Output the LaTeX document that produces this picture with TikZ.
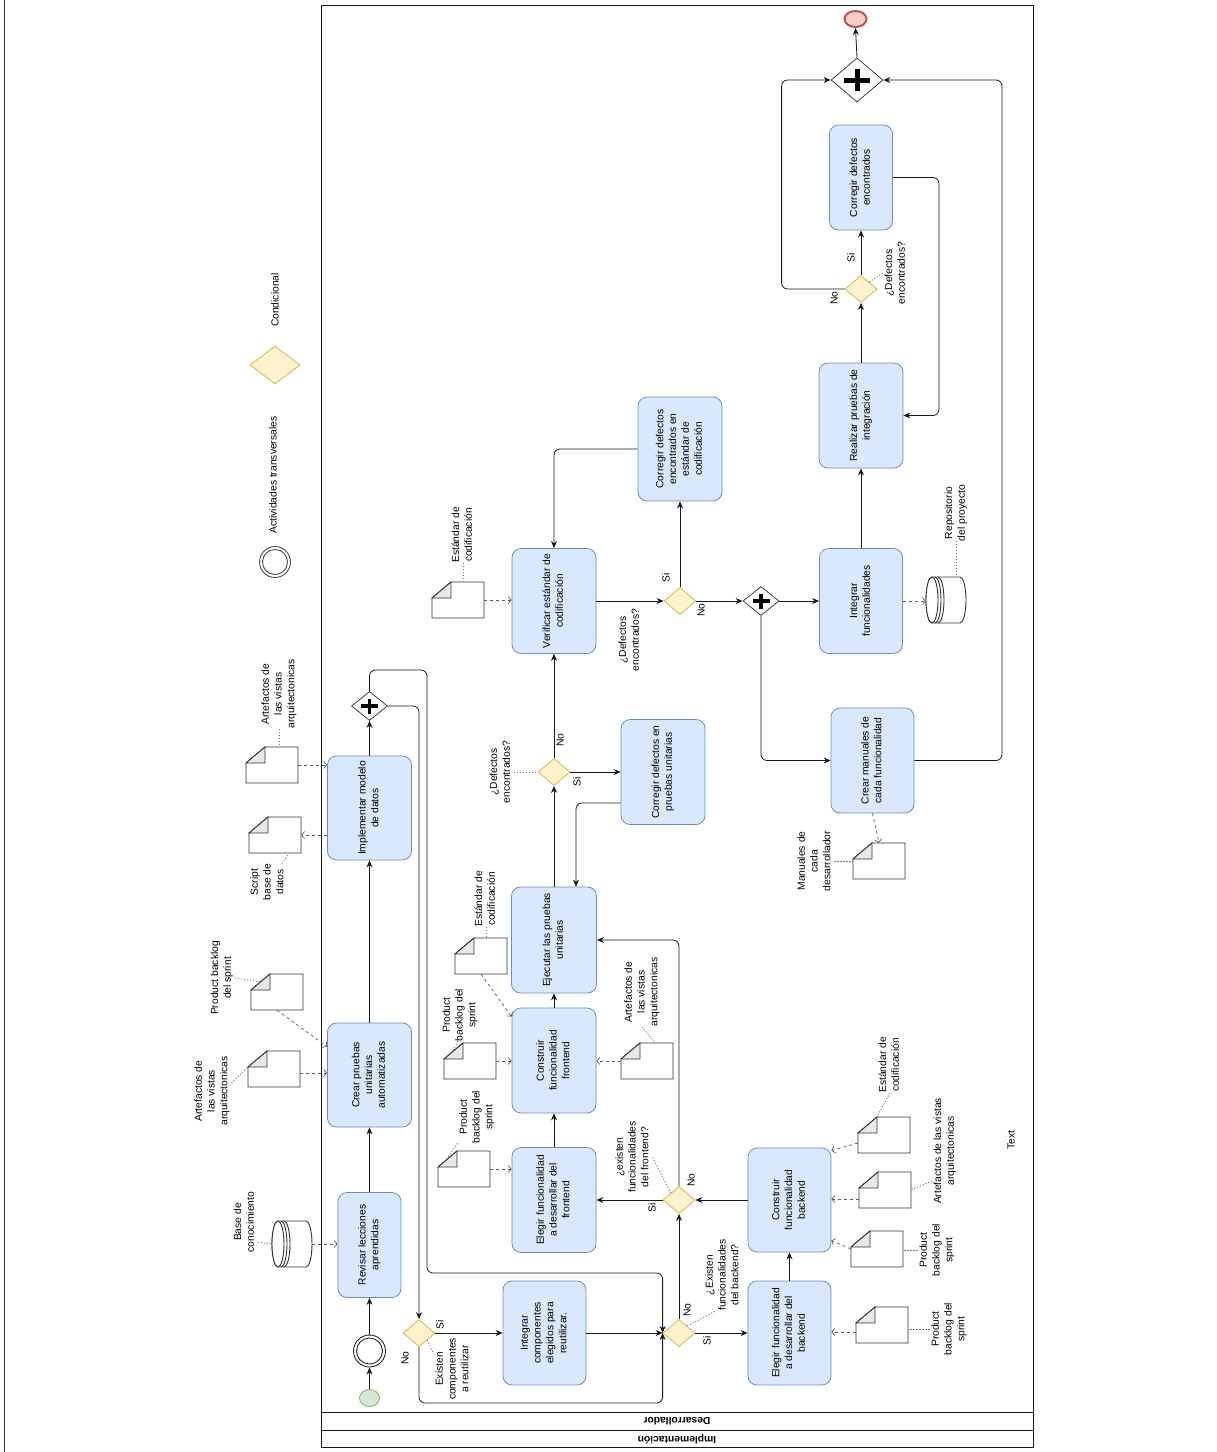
\documentclass[tikz,border=0pt]{standalone}
\usepackage{fontspec}
\setmainfont{Liberation Sans}
\usepackage{graphicx}
\usetikzlibrary{shapes.geometric,arrows.meta,calc}
\definecolor{taskfill}{HTML}{DAE8FC}
\definecolor{taskline}{HTML}{6C8EBF}
\definecolor{condfill}{HTML}{FFF2CC}
\definecolor{condline}{HTML}{D6B656}
\definecolor{startfill}{HTML}{D5E8D4}
\definecolor{startline}{HTML}{82B366}
\definecolor{endfill}{HTML}{F8CECC}
\definecolor{endline}{HTML}{B85450}
\newcommand{\rt}[1]{\rotatebox{90}{\begin{tabular}{@{}c@{}}#1\end{tabular}}}
\newcommand{\docobj}[3]{%
  \node[inner sep=0, minimum width=52pt, minimum height=36pt] (#1) at ({#2+26},{#3+18}) {};
  \draw[docline] (#2,{#3+16}) -- ({#2+19},#3) -- ({#2+52},#3) -- ({#2+52},{#3+36}) -- (#2,{#3+36}) -- cycle;
  \draw[docline, fill=black!9] (#2,{#3+16}) -- ({#2+19},{#3+16}) -- ({#2+19},#3) -- cycle;
}
\newcommand{\cylobj}[4]{% name, left, top, cy
  \node[inner sep=0, minimum width=40pt, minimum height=46pt] (#1) at ({#2+20},#4) {};
  \draw[docline] ({#2+6},#3) -- ({#2+34},#3) arc[start angle=90,end angle=-90,x radius=6pt,y radius=23pt]
     -- ({#2+6},{#3+46}) arc[start angle=270,end angle=90,x radius=6pt,y radius=23pt] -- cycle;
  \draw[docline] ({#2+6},#4) ellipse[x radius=6pt,y radius=23pt];
  \draw[docline,fill=none] ({#2+9},#3) arc[start angle=90,end angle=-90,x radius=6pt,y radius=23pt];
  \draw[docline,fill=none] ({#2+12},#3) arc[start angle=90,end angle=-90,x radius=6pt,y radius=23pt];
}
\tikzset{
  task/.style={draw=taskline, fill=taskfill, rounded corners=9pt, inner sep=0, line width=0.8pt},
  cond/.style={diamond, draw=condline, fill=condfill, inner sep=0, minimum width=32pt, minimum height=27pt, line width=0.8pt},
  pargw/.style={diamond, draw=black!75, fill=white, inner sep=0, line width=0.8pt},
  flow/.style={draw=black!90, line width=0.8pt, rounded corners=6pt, -{Stealth[length=7pt,width=6pt]}},
  assoc/.style={draw=black!65, line width=0.7pt, dash pattern=on 3pt off 3pt, -{Straight Barb[length=3pt,width=7pt]}},
  annot/.style={draw=black!55, line width=0.8pt, dash pattern=on 1.2pt off 1.8pt},
  docline/.style={draw=black!80, line width=0.9pt, fill=white},
  lbl/.style={inner sep=0},
}
\begin{document}
\begin{tikzpicture}[x=1pt,y=-1pt, font=\fontsize{10.3}{12.8}\selectfont]
\useasboundingbox (0,0) rectangle (1217,1452);
\fill[white] (0,0) rectangle (1217,1452);
\draw[black!80, line width=0.8pt] (4,0) -- (4,1452);

% pool
\draw[black!90, line width=0.9pt] (321,5) rectangle (1033,1447);
\draw[black!90, line width=0.9pt] (321,1412) -- (1033,1412);
\draw[black!90, line width=0.9pt] (321,1430) -- (1033,1430);
\node[lbl, rotate=180, font=\fontsize{10.3}{12}\selectfont\bfseries] (lane1) at (677,1421) {Desarrollador};
\node[lbl, rotate=180, font=\fontsize{10.3}{12}\selectfont\bfseries] (lane2) at (677,1439) {Implementación};

% legend
\node[circle, draw=black!70, line width=0.9pt, minimum size=31pt, inner sep=0] (legev) at (275,562) {};
\draw[black!70, line width=0.9pt] (legev.center) circle[radius=12.5pt];
\node[lbl] (legevt) at (274,475) {\rt{Actividades transversales}};
\node[cond, minimum width=50pt, minimum height=38pt] (legcond) at (275,365) {};
\node[lbl] (legcondt) at (276,300) {\rt{Condicional}};
\node[lbl] (txt) at (1012,1140) {\rt{Text}};

% events
\node[ellipse, draw=startline, fill=startfill, line width=0.8pt, minimum width=20pt, minimum height=17pt, inner sep=0] (start) at (369.5,1398) {};
\node[circle, draw=black!85, line width=0.9pt, minimum size=32pt, inner sep=0] (inter) at (369.5,1351) {};
\draw[black!85, line width=0.9pt] (inter.center) circle[radius=13pt];
\node[ellipse, draw=endline, fill=endfill, line width=2pt, minimum width=22pt, minimum height=16pt, inner sep=0] (end) at (855.5,19) {};

% tasks
\node[task, minimum width=63pt, minimum height=105pt] (t1) at (369.5,1245) {\rt{Revisar lecciones\\aprendidas}};
\node[task, minimum width=84pt, minimum height=104pt] (t2) at (369.5,1075) {\rt{Crear pruebas\\unitarias\\automatizadas}};
\node[task, minimum width=84pt, minimum height=104pt] (t3) at (369.5,808) {\rt{Implementar modelo\\de datos}};
\node[task, minimum width=83pt, minimum height=104pt] (t4) at (544.5,1333) {\rt{Integrar\\componentes\\elegidos para\\reutilizar.}};
\node[task, minimum width=84pt, minimum height=105pt] (t5) at (554,1200) {\rt{Elegir funcionalidad\\a desarrollar del\\frontend}};
\node[task, minimum width=84pt, minimum height=105pt] (t6) at (554,1060.5) {\rt{Construir\\funcionalidad\\frontend}};
\node[task, minimum width=85pt, minimum height=106pt] (t7) at (554,940) {\rt{Ejecutar las pruebas\\unitarias}};
\node[task, minimum width=84pt, minimum height=105pt] (t8) at (663,772) {\rt{Corregir defectos en\\pruebas unitarias}};
\node[task, minimum width=84pt, minimum height=105pt] (t9) at (554,601) {\rt{Verificar estándar de\\codificación}};
\node[task, minimum width=84pt, minimum height=104pt] (t10) at (680,449) {\rt{Corregir defectos\\encontrados en\\estándar de\\codificación}};
\node[task, minimum width=83pt, minimum height=105pt] (t11) at (861,601) {\rt{Integrar\\funcionalidades}};
\node[task, minimum width=83pt, minimum height=105pt] (t12) at (872.5,760.5) {\rt{Crear manuales de\\cada funcionalidad}};
\node[task, minimum width=84pt, minimum height=105pt] (t13) at (861,415.5) {\rt{Realizar pruebas de\\integración}};
\node[task, minimum width=63pt, minimum height=105pt] (t14) at (861,177.5) {\rt{Corregir defectos\\encontrados}};
\node[task, minimum width=83pt, minimum height=104pt] (t15) at (789.5,1333) {\rt{Elegir funcionalidad\\a desarrollar del\\backend}};
\node[task, minimum width=83pt, minimum height=104pt] (t16) at (789.5,1200) {\rt{Construir\\funcionalidad\\backend}};

% gateways
\node[cond] (g1) at (419,1333) {};
\node[cond] (g2) at (679,1333) {};
\node[cond] (g3) at (679,1200) {};
\node[cond] (g4) at (554,772) {};
\node[cond] (g5) at (680,601) {};
\node[cond] (g6) at (861,289) {};
\node[pargw, minimum width=36pt, minimum height=29pt] (p1) at (369.5,706) {};
\node[pargw, minimum width=36pt, minimum height=29pt] (p2) at (761,601) {};
\node[pargw, minimum width=52pt, minimum height=44pt] (p3) at (857,80) {};
\foreach \p in {p1,p2}{
  \draw[line width=3.5pt] ([xshift=-8.5pt]\p.center) -- ([xshift=8.5pt]\p.center);
  \draw[line width=3.5pt] ([yshift=-7.5pt]\p.center) -- ([yshift=7.5pt]\p.center);
}
\draw[line width=5pt] ([xshift=-13pt]p3.center) -- ([xshift=13pt]p3.center);
\draw[line width=5pt] ([yshift=-11pt]p3.center) -- ([yshift=11pt]p3.center);

% data objects
\docobj{d1}{251}{974}
\docobj{d2}{248}{1051}
\docobj{d4}{249}{817}
\docobj{d5}{246}{747}
\docobj{d6}{438}{1151}
\docobj{d7}{444}{1043}
\docobj{d8}{455}{938}
\docobj{d9}{621}{1043}
\docobj{d10}{432}{582}
\docobj{d12}{853}{843}
\docobj{d13}{858}{1117}
\docobj{d14}{859}{1172}
\docobj{d15}{851}{1231}
\docobj{d16}{856}{1307}
\cylobj{cyl1}{272}{1221}{1244}
\cylobj{cyl2}{926}{577}{600}

% data labels
\node[lbl] (ld1) at (222,978) {\rt{Product backlog\\del sprint}};
\node[lbl] (ld2) at (212,1091) {\rt{Artefactos de\\las vistas\\arquitectonicas}};
\node[lbl] (ld3) at (245,1222) {\rt{Base de\\conocimiento}};
\node[lbl] (ld4) at (268,882) {\rt{Script\\base de\\datos}};
\node[lbl] (ld5) at (279,694) {\rt{Artefactos de\\las vistas\\arquitectonicas}};
\node[lbl] (ld6) at (477,1117) {\rt{Product\\backlog del\\sprint}};
\node[lbl] (ld7) at (460,1015) {\rt{Product\\backlog del\\sprint}};
\node[lbl] (ld8) at (486,899) {\rt{Estándar de\\codificación}};
\node[lbl] (ld9) at (642,992) {\rt{Artefactos de\\las vistas\\arquitectonicas}};
\node[lbl] (ld10) at (463,535) {\rt{Estándar de\\codificación}};
\node[lbl] (ld11) at (956,513) {\rt{Repositorio\\del proyecto}};
\node[lbl] (ld12) at (815,861) {\rt{Manuales de\\cada\\desarrollador}};
\node[lbl] (ld13) at (890,1065) {\rt{Estándar de\\codificación}};
\node[lbl] (ld14) at (945,1151) {\rt{Artefactos de las vistas\\arquitectonicas}};
\node[lbl] (ld15) at (937,1250) {\rt{Product\\backlog del\\sprint}};
\node[lbl] (ld16) at (949,1329) {\rt{Product\\backlog del\\sprint}};

% gateway labels
\node[lbl] (lg1) at (453,1369) {\rt{Existen\\componentes\\a reutilizar}};
\node[lbl] (lg2) at (723,1275) {\rt{¿Existen\\funcionalidades\\del backend?}};
\node[lbl] (lg3) at (633,1157) {\rt{¿existen\\funcionalidades\\del frontend?}};
\node[lbl] (lg4) at (501,772) {\rt{¿Defectos\\encontrados?}};
\node[lbl] (lg5) at (630,640) {\rt{¿Defectos\\encontrados?}};
\node[lbl] (lg6) at (896,273) {\rt{¿Defectos\\encontrados?}};

% flow labels
\node[lbl] (s1) at (441,1325) {\rt{Si}};
\node[lbl] (n1) at (406,1358) {\rt{No}};
\node[lbl] (s2) at (708,1341) {\rt{Si}};
\node[lbl] (n2) at (688,1310) {\rt{No}};
\node[lbl] (s3) at (653,1208) {\rt{Si}};
\node[lbl] (n3) at (692,1180) {\rt{No}};
\node[lbl] (s4) at (578,782) {\rt{Si}};
\node[lbl] (n4) at (561,740) {\rt{No}};
\node[lbl] (s5) at (667,578) {\rt{Si}};
\node[lbl] (n5) at (702,610) {\rt{No}};
\node[lbl] (s6) at (852,258) {\rt{Si}};
\node[lbl] (n6) at (835,298) {\rt{No}};

% sequence flows
\draw[flow] (start.north) -- (inter.south);
\draw[flow] (inter.north) -- (t1.south);
\draw[flow] (t1.north) -- (t2.south);
\draw[flow] (t2.north) -- (t3.south);
\draw[flow] (t3.north) -- (p1.south);
\draw[flow] (p1.north) |- (427,670) -- (427,1273) -| (g2.west);
\draw[flow] (p1.east) -| (g1.north);
\draw[flow] (g1.east) -- (t4.west);
\draw[flow] (g1.south) -- (419,1403) -| (g2.west);
\draw[flow] (t4.east) -- (g2.west);
\draw[flow] (g2.east) -- (t15.west);
\draw[flow] (g2.north) -- (g3.south);
\draw[flow] (t15.north) -- (t16.south);
\draw[flow] (t16.west) -- (g3.east);
\draw[flow] (g3.west) -- (t5.east);
\draw[flow] (g3.north) |- (t7.east);
\draw[flow] (t5.north) -- (t6.south);
\draw[flow] (t6.north) -- (t7.south);
\draw[flow] (t7.north) -- (g4.south);
\draw[flow] (g4.east) -- (t8.west);
\draw[flow] ([yshift=-31pt]t8.west) -| ([xshift=22pt]t7.north);
\draw[flow] (g4.north) -- (t9.south);
\draw[flow] (t9.east) -- (g5.west);
\draw[flow] (g5.north) -- (t10.south);
\draw[flow] (t10.west) -| (t9.north);
\draw[flow] (g5.east) -- (p2.west);
\draw[flow] (p2.east) -- (t11.west);
\draw[flow] (p2.south) |- (t12.west);
\draw[flow] (t11.north) -- (t13.south);
\draw[flow] (t13.north) -- (g6.south);
\draw[flow] (g6.north) -- (t14.south);
\draw[flow] (g6.west) -| ([xshift=-49pt]p3.west) -- (p3.west);
\draw[flow] (t14.east) -- (939,177.5) |- (t13.east);
\draw[flow] (t12.east) -- (1002,760.5) |- (p3.east);
\draw[flow] (p3.north) -- (end.south);

% associations
\draw[assoc] (cyl1.east) -- (cyl1.east -| t1.west);
\draw[assoc] (d1.south) -- ([yshift=-24pt]t2.north west);
\draw[assoc] ([yshift=-4pt]d2.east) -- ([yshift=-4pt]d2.east -| t2.west);
\draw[assoc] (t3.west |- d4.east) -- (d4.east);
\draw[assoc] (d5.east) -- (d5.east -| t3.west);
\draw[assoc] (d6.east) -- (d6.east -| t5.west);
\draw[assoc] (d7.east) -- (d7.east -| t6.west);
\draw[assoc] (d8.south) -- ([yshift=-9pt]t6.north west);
\draw[assoc] (d9.west) -- (d9.west -| t6.east);
\draw[assoc] (d10.east) -- (d10.east -| t9.west);
\draw[assoc] (t11.east) -- (t11.east -| cyl2.west);
\draw[assoc] (t12.south) -- (d12.north);
\draw[assoc] ([yshift=-8pt]d13.west) -- ([yshift=-3pt]t16.north east);
\draw[assoc] ([yshift=-9pt]d14.west) -- ([yshift=-9pt]d14.west -| t16.east);
\draw[assoc] (d15.west) -- ([yshift=12pt]t16.south east);
\draw[assoc] ([yshift=-7pt]d16.west) -- ([yshift=-7pt]d16.west -| t15.east);

% annotation connectors
\draw[annot] (ld1.east) -- ([xshift=9pt,yshift=-8pt]d1.north west);
\draw[annot] ([yshift=8pt]ld2.east) -- ([xshift=9pt,yshift=-8pt]d2.north west);
\draw[annot] ([yshift=-20pt]ld3.east) -- (cyl1.west);
\draw[annot] ([xshift=14pt]ld4.north) -- ([xshift=-12pt]d4.south east);
\draw[annot] (ld5.south) -- (ld5.south |- d5.north);
\draw[annot] (ld6.south west) -- ([xshift=9pt,yshift=-8pt]d6.north west);
\draw[annot] ([xshift=-2pt]ld7.south) -- ([xshift=9pt,yshift=-8pt]d7.north west);
\draw[annot] (ld8.south) -- (ld8.south |- d8.north);
\draw[annot] (ld9.south) -- ([xshift=-18pt]d9.north east);
\draw[annot] (ld10.south) -- (ld10.south |- d10.north);
\draw[annot] (ld11.south) -- (ld11.south |- cyl2.north);
\draw[annot] (ld12.east) -- (ld12.east -| d12.west);
\draw[annot] (ld13.south) -- ([xshift=19pt]d13.north west);
\draw[annot] ([yshift=-30pt]ld14.west) -- ([yshift=-18pt]d14.north east);
\draw[annot] (ld15.west) -- (ld15.west -| d15.east);
\draw[annot] (ld16.west) -- (ld16.west -| d16.east);
\draw[annot] (g1.south east) -- ([yshift=-16pt]lg1.north west);
\draw[annot] (g2.north east) -- ([xshift=12pt]lg2.south west);
\draw[annot] (g3.north west) -- (lg3.east);
\draw[annot] (lg4.east) -- (g4.west);
\draw[annot] (g6.north east) -- (lg6.west);
\end{tikzpicture}
\end{document}
